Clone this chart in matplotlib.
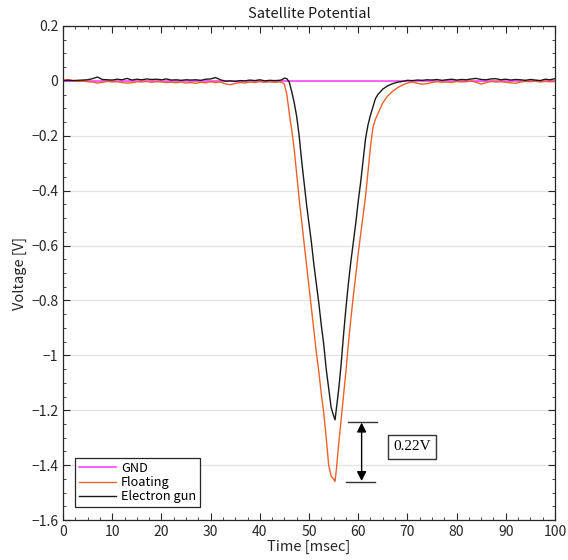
import numpy as np
import matplotlib
matplotlib.use("Agg")
import matplotlib.pyplot as plt
from matplotlib.ticker import MultipleLocator

# sample times [msec]: 1 ms steps on the baseline, finer through the dip
time_ms = (list(range(0, 44))
           + [44, 44.5, 45, 45.5, 46, 46.5, 47, 47.5, 48, 48.5,
              49, 49.5, 50, 50.5, 51, 51.5, 52, 52.5, 53, 53.5,
              54, 54.5, 55, 55.3, 55.6, 56, 56.5, 57, 57.5, 58,
              58.5, 59, 59.5, 60, 60.5, 61, 61.5, 62, 62.5, 63,
              63.5, 64, 64.5, 65, 66, 67, 68, 69, 70]
           + list(range(71, 101)))

# Floating (orange)
floating_v = [
    # 0 - 43
    0.002, 0.005, 0.001, -0.002, -0.001, -0.003, -0.004, -0.008, -0.005, -0.002,
    -0.004, -0.003, -0.006, -0.008, -0.007, -0.003, -0.004, -0.002, -0.005, -0.003,
    -0.004, -0.006, -0.005, -0.007, -0.004, -0.008, -0.006, -0.009, -0.005, -0.007,
    -0.003, -0.006, -0.004, -0.011, -0.014, -0.009, -0.006, -0.008, -0.004, -0.006,
    -0.003, -0.005, -0.004, -0.005,
    # 44 - 70
    -0.004, -0.005, -0.012, -0.05, -0.12, -0.18, -0.25, -0.34, -0.43, -0.51,
    -0.59, -0.67, -0.75, -0.83, -0.91, -0.99, -1.06, -1.14, -1.21, -1.30,
    -1.40, -1.44, -1.45, -1.46, -1.41, -1.33, -1.24, -1.15, -1.06, -0.96,
    -0.87, -0.785, -0.71, -0.63, -0.56, -0.49, -0.42, -0.33, -0.24, -0.17,
    -0.14, -0.12, -0.10, -0.08, -0.055, -0.038, -0.025, -0.015, -0.008,
    # 71 - 100
    -0.004, -0.009, -0.012, -0.010, -0.006, -0.003, -0.005, -0.004, -0.006, -0.002,
    -0.004, -0.003, -0.001, -0.005, -0.012, -0.006, -0.002, -0.004, -0.003, -0.005,
    -0.007, -0.009, -0.004, -0.002, -0.003, -0.001, -0.004, -0.002, -0.003, -0.002,
]

# Electron gun (black)
egun_v = [
    # 0 - 43
    0.001, 0.002, 0.001, 0.002, 0.003, 0.004, 0.008, 0.014, 0.005, 0.004,
    0.003, 0.006, 0.004, 0.009, 0.003, 0.006, 0.004, 0.007, 0.005, 0.006,
    0.004, 0.007, 0.003, 0.004, 0.002, 0.004, 0.003, 0.004, 0.002, 0.006,
    0.007, 0.012, 0.004, -0.001, 0.000, -0.002, 0.001, 0.000, 0.003, 0.001,
    0.004, 0.000, 0.002, 0.001,
    # 44 - 70
    0.002, 0.004, 0.010, 0.008, -0.005, -0.04, -0.08, -0.13, -0.20, -0.29,
    -0.37, -0.45, -0.52, -0.59, -0.67, -0.74, -0.81, -0.89, -0.96, -1.05,
    -1.12, -1.19, -1.22, -1.235, -1.19, -1.13, -1.04, -0.93, -0.83, -0.74,
    -0.66, -0.59, -0.52, -0.44, -0.37, -0.29, -0.21, -0.16, -0.125, -0.095,
    -0.065, -0.05, -0.04, -0.03, -0.018, -0.01, -0.005, -0.002, 0.002,
    # 71 - 100
    0.001, 0.003, 0.002, 0.004, 0.003, 0.005, 0.002, 0.004, 0.006, 0.003,
    0.005, 0.004, 0.007, 0.009, 0.005, 0.004, 0.007, 0.008, 0.004, 0.006,
    0.003, 0.005, 0.004, 0.002, 0.005, 0.003, 0.001, 0.006, 0.004, 0.008,
]

gnd_t = [0, 100]
gnd_v = [0, 0]

assert len(time_ms) == len(floating_v) == len(egun_v)

plt.rcParams['font.family'] = ['Noto Sans CJK JP', 'DejaVu Sans']

fig = plt.figure(figsize=(5.68, 5.6), dpi=100)
ax = fig.add_axes([0.111, 0.0714, 0.866, 0.8822])

ax.plot(gnd_t, gnd_v, color='#ff55ff', lw=1.3, label='GND')
ax.plot(time_ms, floating_v, color='#f0602a', lw=1.0, label='Floating')
ax.plot(time_ms, egun_v, color='#1a1a1a', lw=1.0, label='Electron gun')

ax.set_xlim(0, 100)
ax.set_ylim(-1.6, 0.2)
ax.xaxis.set_major_locator(MultipleLocator(10))
ax.xaxis.set_minor_locator(MultipleLocator(2.5))
ax.yaxis.set_major_locator(MultipleLocator(0.2))
ax.yaxis.set_minor_locator(MultipleLocator(0.05))
ax.yaxis.set_major_formatter(plt.FuncFormatter(
    lambda v, p: '0' if abs(v) < 1e-9 else ('%g' % round(v, 1)).replace('-', '\u2212')))
ax.tick_params(which='both', direction='in', top=True, right=True,
               colors='#262626', labelsize=10, labelcolor='#262626')
ax.tick_params(which='major', length=5, width=0.8)
ax.tick_params(which='minor', length=2.5, width=0.6)
for s in ax.spines.values():
    s.set_color('#262626')
    s.set_linewidth(0.9)
ax.yaxis.grid(True, color='#e3e3e3', lw=0.9)
ax.set_axisbelow(True)

ax.set_title('Satellite Potential', fontsize=10.5, color='#1a1a1a', pad=6)
ax.set_xlabel('Time [msec]', fontsize=10.5, color='#262626', labelpad=1)
ax.set_ylabel('Voltage [V]', fontsize=10.5, color='#262626', labelpad=3)

# difference marker
ax.plot([57.9, 63.8], [-1.242, -1.242], color='#333333', lw=1.0)
ax.plot([57.5, 63.4], [-1.461, -1.461], color='#333333', lw=1.0)
ax.annotate('', xy=(60.7, -1.458), xytext=(60.7, -1.245),
            arrowprops=dict(arrowstyle='<|-|>', color='black', lw=1.0,
                            mutation_scale=14, shrinkA=0, shrinkB=0))
ax.text(70.9, -1.333, '0.22V', family='Liberation Serif', fontsize=11,
        ha='center', va='center',
        bbox=dict(boxstyle='square,pad=0.35', fc='white', ec='#333333', lw=1.0))

leg = ax.legend(loc='lower left', bbox_to_anchor=(0.024, 0.026), borderaxespad=0,
                fontsize=9.2, fancybox=False, framealpha=1, edgecolor='#262626',
                handlelength=2.9, handletextpad=0.4, labelspacing=0.1,
                borderpad=0.3)
leg.get_frame().set_linewidth(0.9)

fig.savefig('out.png', dpi=100)
